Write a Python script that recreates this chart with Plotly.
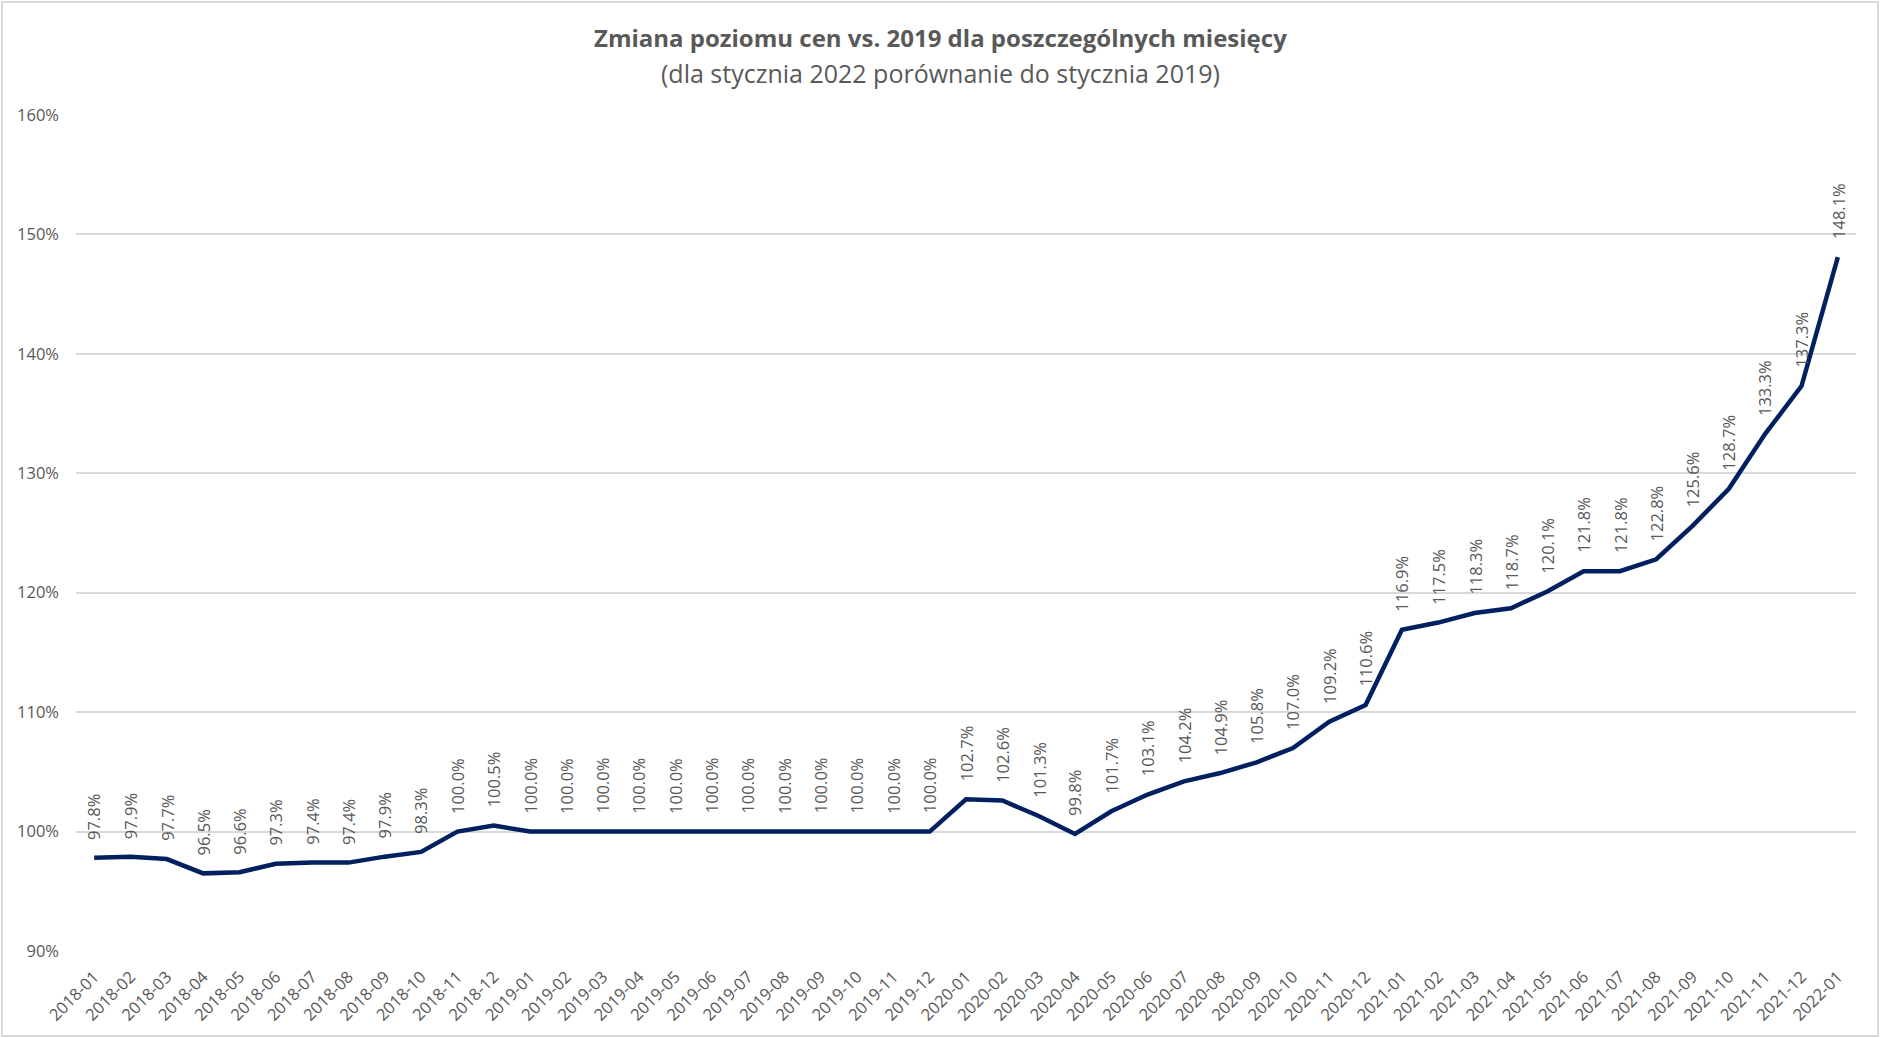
import plotly.graph_objects as go

months = [
    "2018-01","2018-02","2018-03","2018-04","2018-05","2018-06","2018-07","2018-08","2018-09","2018-10","2018-11","2018-12",
    "2019-01","2019-02","2019-03","2019-04","2019-05","2019-06","2019-07","2019-08","2019-09","2019-10","2019-11","2019-12",
    "2020-01","2020-02","2020-03","2020-04","2020-05","2020-06","2020-07","2020-08","2020-09","2020-10","2020-11","2020-12",
    "2021-01","2021-02","2021-03","2021-04","2021-05","2021-06","2021-07","2021-08","2021-09","2021-10","2021-11","2021-12",
    "2022-01",
]
values = [
    97.8, 97.9, 97.7, 96.5, 96.6, 97.3, 97.4, 97.4, 97.9, 98.3, 100.0, 100.5,
    100.0, 100.0, 100.0, 100.0, 100.0, 100.0, 100.0, 100.0, 100.0, 100.0, 100.0, 100.0,
    102.7, 102.6, 101.3, 99.8, 101.7, 103.1, 104.2, 104.9, 105.8, 107.0, 109.2, 110.6,
    116.9, 117.5, 118.3, 118.7, 120.1, 121.8, 121.8, 122.8, 125.6, 128.7, 133.3, 137.3,
    148.1,
]
y_ticks = [90, 100, 110, 120, 130, 140, 150, 160]
y_tick_labels = ["90%", "100%", "110%", "120%", "130%", "140%", "150%", "160%"]

title_main = "Zmiana poziomu cen vs. 2019 dla poszczególnych miesięcy"
title_sub = "(dla stycznia 2022 porównanie do stycznia 2019)"

FONT = "Open Sans"
GRAY = "#595959"
W, H = 1880, 1038
ML, MR, MT, MB = 76, 24, 115, 87
PW, PH = W - ML - MR, H - MT - MB

def px_x(p):
    return (p - ML) / PW

def px_y(p):
    return (H - MB - p) / PH

fig = go.Figure()
fig.add_trace(go.Scatter(
    x=months, y=values, mode="lines",
    line=dict(color="#002060", width=4.5),
    hoverinfo="skip", showlegend=False,
))

annotations = []
for m, v in zip(months, values):
    annotations.append(dict(
        x=m, y=v, xref="x", yref="y", text=f"{v:.1f}%", showarrow=False,
        textangle=-90, yanchor="bottom", xanchor="center", yshift=16,
        font=dict(family=FONT, size=16.5, color=GRAY),
    ))
annotations.append(dict(
    x=px_x(940), y=px_y(37), xref="paper", yref="paper", text=f"<b>{title_main}</b>",
    showarrow=False, xanchor="center", yanchor="middle",
    font=dict(family=FONT, size=24, color=GRAY),
))
annotations.append(dict(
    x=px_x(940), y=px_y(73), xref="paper", yref="paper", text=title_sub,
    showarrow=False, xanchor="center", yanchor="middle",
    font=dict(family=FONT, size=25, color=GRAY),
))

fig.update_layout(
    width=W, height=H,
    margin=dict(l=ML, r=MR, t=MT, b=MB),
    paper_bgcolor="white", plot_bgcolor="white",
    annotations=annotations,
    shapes=[dict(
        type="rect", xref="paper", yref="paper",
        x0=px_x(2), x1=px_x(1878), y0=px_y(1036), y1=px_y(2),
        line=dict(color="#d9d9d9", width=2), fillcolor="rgba(0,0,0,0)", layer="below",
    )],
    xaxis=dict(
        type="category", range=[-0.5, len(months) - 0.5],
        tickangle=-45, showgrid=False, zeroline=False, showline=False,
        tickfont=dict(family=FONT, size=16.5, color=GRAY), ticks="",
        ticklabelstandoff=12,
    ),
    yaxis=dict(
        range=[90, 160], tickvals=y_ticks, ticktext=y_tick_labels,
        showgrid=True, gridcolor="#d9d9d9", gridwidth=1.5, zeroline=False, showline=False,
        tickfont=dict(family=FONT, size=16.5, color=GRAY), ticklabelstandoff=16,
    ),
)

fig.write_html("out.html")
